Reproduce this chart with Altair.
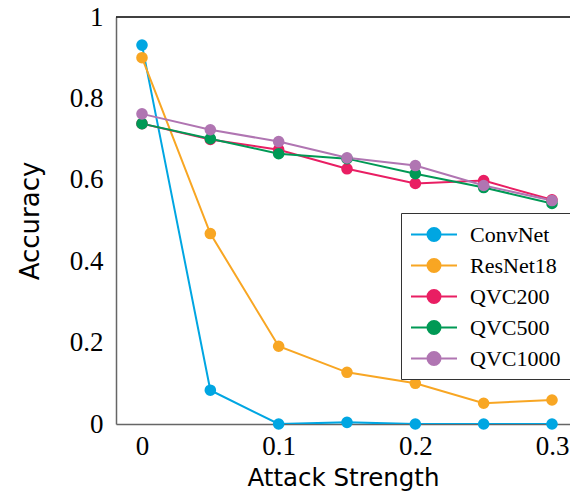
import altair as alt
import pandas as pd

strengths = [0.0, 0.05, 0.1, 0.15, 0.2, 0.25, 0.3]
models = ["ConvNet", "ResNet18", "QVC200", "QVC500", "QVC1000"]
convnet = [0.931, 0.083, 0.0, 0.004, 0.0, 0.0, 0.0]
resnet18 = [0.900, 0.468, 0.191, 0.127, 0.100, 0.051, 0.059]
qvc200 = [0.738, 0.699, 0.674, 0.627, 0.591, 0.598, 0.551]
qvc500 = [0.738, 0.701, 0.664, 0.652, 0.615, 0.581, 0.542]
qvc1000 = [0.762, 0.723, 0.694, 0.654, 0.635, 0.586, 0.549]
colors = ["#00a6e2", "#f8a623", "#e91e63", "#009955", "#b075b2"]

series = [convnet, resnet18, qvc200, qvc500, qvc1000]
rows = []
for i, (m, vals) in enumerate(zip(models, series)):
    for s, v in zip(strengths, vals):
        rows.append({"strength": s, "acc": v, "model": m, "order": i})
df = pd.DataFrame(rows)

W, H = 454, 407
serif = "Liberation Serif"
sans = "DejaVu Sans"

xscale = alt.Scale(domain=[-0.01902, 0.31317], nice=False, zero=False)
yscale = alt.Scale(domain=[0, 1], nice=False)

symbol_path = "M-1,0L3,0M0.435,0A0.565,0.565,0,1,0,1.565,0A0.565,0.565,0,1,0,0.435,0Z"

color = alt.Color(
    "model:N",
    scale=alt.Scale(domain=models, range=colors),
    legend=alt.Legend(
        title=None,
        orient="none",
        legendX=285,
        legendY=196,
        symbolType=symbol_path,
        symbolSize=529,
        symbolStrokeWidth=2,
        labelFont=serif,
        labelFontSize=22,
        labelColor="#000000",
        labelOffset=35,
        rowPadding=7,
        padding=9,
        strokeColor="#333333",
        fillColor="#ffffff",
    ),
)

x = alt.X(
    "strength:Q",
    scale=xscale,
    axis=alt.Axis(
        values=[0, 0.1, 0.2, 0.3],
        title="Attack Strength",
        ticks=False,
        grid=False,
        labelFont=serif,
        labelFontSize=27,
        labelColor="#000000",
        labelPadding=9,
        titleFont=sans,
        titleFontSize=24.5,
        titleFontWeight="normal",
        titleColor="#000000",
        titleBaseline="alphabetic",
        titleY=61,
        domainColor="#666666",
        domainWidth=1.5,
        format="~g",
    ),
)
y = alt.Y(
    "acc:Q",
    scale=yscale,
    axis=alt.Axis(
        values=[0, 0.2, 0.4, 0.6, 0.8, 1.0],
        title="Accuracy",
        ticks=False,
        grid=False,
        labelFont=serif,
        labelFontSize=27,
        labelColor="#000000",
        labelPadding=13,
        titleFont=sans,
        titleFontSize=26,
        titleFontWeight="normal",
        titleColor="#000000",
        titlePadding=26,
        domainColor="#666666",
        domainWidth=1.5,
        format="~g",
    ),
)

base = alt.Chart(df)
lines = base.mark_line(strokeWidth=2, clip=True).encode(
    x=x, y=y, color=color, detail="model:N", order="order:Q"
)
points = base.mark_point(filled=True, size=135, opacity=1, clip=False).encode(
    x=x, y=y, color=color
)
top = alt.Chart(pd.DataFrame({"a": [0]})).mark_rule(color="#000000", strokeWidth=1.5).encode(
    x=alt.value(0), x2=alt.value(W), y=alt.value(0)
)

chart = alt.layer(lines, points, top).properties(
    width=W,
    height=H,
    autosize=alt.AutoSizeParams(type="none"),
    padding={"left": 108, "top": 9, "right": 0, "bottom": 68},
).configure_view(stroke=None)

chart.save("out.html", embed_options={"renderer": "svg", "actions": False})
